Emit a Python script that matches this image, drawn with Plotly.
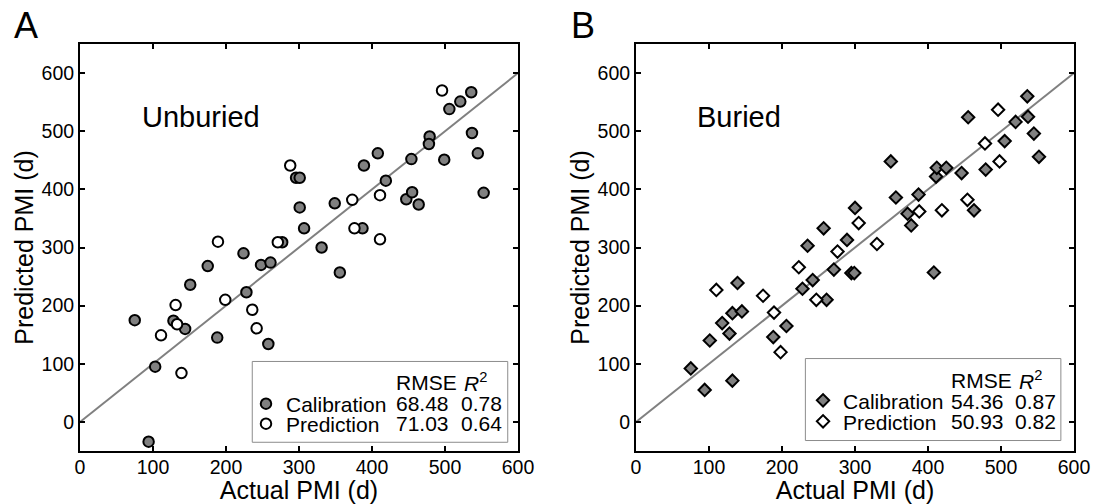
import plotly.graph_objects as go

# ---------------- data ----------------
# Panel A: Unburied
unb_cal_x = [75, 103, 94, 128, 144, 151, 175, 188, 224, 228, 248, 261, 258, 277, 296, 301, 301, 307, 331,
             356, 349, 389, 387, 408, 419, 454, 447, 455, 464, 479, 478, 499, 506, 521, 536, 537, 545, 553]
unb_cal_y = [175, 95, -34, 174, 160, 236, 268, 145, 290, 223, 270, 274, 134, 309, 420, 420, 369, 333, 300,
             257, 376, 441, 333, 462, 415, 452, 383, 395, 374, 491, 478, 451, 538, 551, 567, 497, 462, 394]
unb_pred_x = [111, 133, 131, 139, 189, 199, 236, 242, 271, 288, 373, 376, 411, 411, 496]
unb_pred_y = [149, 168, 201, 84, 310, 210, 193, 161, 309, 441, 382, 333, 390, 314, 570]

# Panel B: Buried
bur_cal_x = [75, 94, 101, 118, 128, 132, 132, 139, 145, 188, 206, 228, 242, 235, 257, 261, 271, 289, 295,
             299, 300, 349, 356, 372, 377, 387, 408, 411, 412, 425, 446, 455, 463, 479, 505, 520, 536, 537,
             545, 552]
bur_cal_y = [92, 55, 140, 170, 152, 187, 71, 239, 190, 146, 165, 229, 244, 303, 333, 210, 262, 313, 256,
             256, 368, 448, 386, 358, 338, 391, 257, 422, 437, 437, 428, 524, 364, 434, 483, 516, 560, 525,
             496, 456]
bur_pred_x = [110, 174, 189, 198, 223, 247, 276, 305, 330, 388, 419, 454, 478, 498, 496]
bur_pred_y = [227, 217, 188, 120, 266, 210, 293, 342, 306, 362, 364, 382, 479, 448, 537]

# 1:1 reference line
ref_line = [0, 600]

# ticks
x_ticks = [0, 100, 200, 300, 400, 500, 600]
y_ticks = [0, 100, 200, 300, 400, 500, 600]

# statistics shown in the legends
series_names = ["Calibration", "Prediction"]
unb_rmse = ["68.48", "71.03"]
unb_r2 = ["0.78", "0.64"]
bur_rmse = ["54.36", "50.93"]
bur_r2 = ["0.87", "0.82"]

# ---------------- styling ----------------
FONT = "Liberation Sans, Arial, Helvetica, sans-serif"
FILL = "#808080"
LINE = "#808080"

fig = go.Figure()

# Panel A
fig.add_trace(go.Scatter(x=ref_line, y=ref_line, mode="lines", line=dict(color=LINE, width=2),
                         showlegend=False, hoverinfo="skip", xaxis="x", yaxis="y"))
fig.add_trace(go.Scatter(x=unb_cal_x, y=unb_cal_y, mode="markers", name=series_names[0],
                         marker=dict(symbol="circle", size=10.5, color=FILL, line=dict(color="black", width=2)),
                         xaxis="x", yaxis="y", legend="legend"))
fig.add_trace(go.Scatter(x=unb_pred_x, y=unb_pred_y, mode="markers", name=series_names[1],
                         marker=dict(symbol="circle", size=10.5, color="white", line=dict(color="black", width=2)),
                         xaxis="x", yaxis="y", legend="legend2"))

# Panel B
fig.add_trace(go.Scatter(x=ref_line, y=ref_line, mode="lines", line=dict(color=LINE, width=2),
                         showlegend=False, hoverinfo="skip", xaxis="x2", yaxis="y2"))
fig.add_trace(go.Scatter(x=bur_cal_x, y=bur_cal_y, mode="markers", name=series_names[0],
                         marker=dict(symbol="diamond", size=9.5, color=FILL, line=dict(color="black", width=2)),
                         xaxis="x2", yaxis="y2", legend="legend3"))
fig.add_trace(go.Scatter(x=bur_pred_x, y=bur_pred_y, mode="markers", name=series_names[1],
                         marker=dict(symbol="diamond", size=9.5, color="white", line=dict(color="black", width=2)),
                         xaxis="x2", yaxis="y2", legend="legend4"))

def xax(domain, anchor):
    return dict(domain=domain, anchor=anchor, range=[0, 600], tickmode="array", tickvals=x_ticks,
                ticks="inside", ticklen=5, tickwidth=1.5, tickcolor="black",
                showline=True, linecolor="black", linewidth=2, mirror="ticks",
                showgrid=False, zeroline=False, automargin=False, ticklabelstandoff=-2,
                tickfont=dict(family=FONT, size=19.5, color="black"),
                title=dict(text="Actual PMI (d)", font=dict(family=FONT, size=25, color="black"), standoff=0))

def yax(anchor):
    return dict(domain=[0, 1], anchor=anchor, range=[-50, 650], tickmode="array", tickvals=y_ticks,
                ticks="inside", ticklen=5, tickwidth=1.5, tickcolor="black",
                showline=True, linecolor="black", linewidth=2, mirror="ticks",
                showgrid=False, zeroline=False, automargin=False,
                tickfont=dict(family=FONT, size=19.5, color="black"),
                title=dict(text="Predicted PMI (d)", font=dict(family=FONT, size=25, color="black"), standoff=1))

def leg(x, y):
    return dict(x=x, y=y, xanchor="left", yanchor="middle", xref="paper", yref="paper",
                bgcolor="rgba(0,0,0,0)", borderwidth=0, itemclick=False, itemdoubleclick=False,
                font=dict(family=FONT, size=21, color="black"))

annotations = []
# Panel letters
annotations.append(dict(text="A", xref="paper", yref="paper", x=-0.068, y=1.046, xanchor="left",
                        yanchor="middle", showarrow=False, font=dict(family=FONT, size=36, color="black")))
annotations.append(dict(text="B", xref="paper", yref="paper", x=0.4915, y=1.046, xanchor="left",
                        yanchor="middle", showarrow=False, font=dict(family=FONT, size=36, color="black")))
# Panel titles
annotations.append(dict(text="Unburied", xref="x", yref="y", x=82, y=525, xanchor="left", yanchor="middle",
                        showarrow=False, font=dict(family=FONT, size=29, color="black")))
annotations.append(dict(text="Buried", xref="x2", yref="y2", x=81, y=525, xanchor="left", yanchor="middle",
                        showarrow=False, font=dict(family=FONT, size=29, color="black")))

def stat_table(xr, yr, x_rmse, x_r2, y_head, y_rows, rmse, r2):
    lf = dict(family=FONT, size=21, color="black")
    annotations.append(dict(text="RMSE", xref=xr, yref=yr, x=x_rmse, y=y_head, xanchor="left",
                            yanchor="middle", showarrow=False, font=lf))
    annotations.append(dict(text="<i>R</i><sup>2</sup>", xref=xr, yref=yr, x=x_r2 + 5, y=y_head,
                            xanchor="left", yanchor="middle", showarrow=False, font=lf))
    for i in range(2):
        annotations.append(dict(text=rmse[i], xref=xr, yref=yr, x=x_rmse, y=y_rows[i], xanchor="left",
                                yanchor="middle", showarrow=False, font=lf))
        annotations.append(dict(text=r2[i], xref=xr, yref=yr, x=x_r2, y=y_rows[i], xanchor="left",
                                yanchor="middle", showarrow=False, font=lf))

stat_table("x", "y", 430, 519, 68, [32, -2], unb_rmse, unb_r2)
stat_table("x2", "y2", 429, 517, 72, [36, 0], bur_rmse, bur_r2)

shapes = [
    dict(type="rect", xref="x", yref="y", x0=236, x1=586, y0=-35, y1=104, layer="below",
         line=dict(color="#8c8c8c", width=1), fillcolor="white"),
    dict(type="rect", xref="x2", yref="y2", x0=232, x1=582, y0=-32, y1=109, layer="below",
         line=dict(color="#8c8c8c", width=1), fillcolor="white"),
]

fig.update_layout(
    template="none",
    width=1096, height=504,
    margin=dict(l=80, r=22, t=44, b=53, pad=0),
    paper_bgcolor="white", plot_bgcolor="white",
    font=dict(family=FONT, color="black"),
    xaxis=xax([0, 0.4406], "y"),
    yaxis=yax("x"),
    xaxis2=xax([0.5594, 1], "y2"),
    yaxis2=yax("x2"),
    legend=leg(0.167, 0.1155),
    legend2=leg(0.167, 0.0663),
    legend3=leg(0.7274, 0.1236),
    legend4=leg(0.7274, 0.072),
    annotations=annotations,
    shapes=shapes,
    showlegend=True,
)

fig.write_html("out.html", config={"displayModeBar": False},
               post_script="document.body.style.margin='0px';document.body.style.padding='0px';")
